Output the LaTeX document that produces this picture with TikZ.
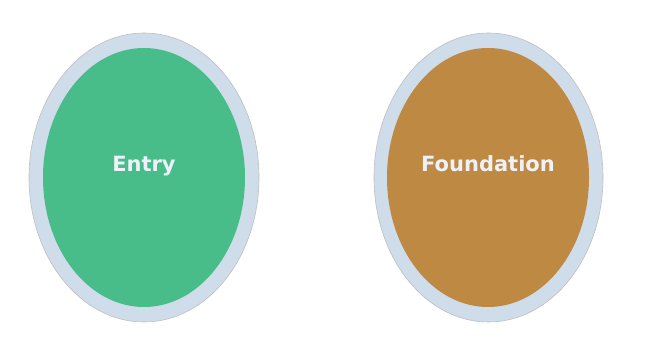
\documentclass[tikz,border=0pt]{standalone}
\usepackage{fontspec}
\setmainfont{DejaVu Sans}
\begin{document}
\begin{tikzpicture}[x=1pt,y=1pt,
  ring/.style={draw=black!25, line width=0.6pt, fill=ringblue},
  core/.style={draw=none},
  label/.style={font=\fontsize{21}{24}\selectfont\bfseries, text=labelwhite, anchor=base, inner sep=0pt}]
\definecolor{ringblue}{HTML}{CFDCEA}
\definecolor{entrygreen}{HTML}{48BD8A}
\definecolor{foundbrown}{HTML}{BD8943}
\definecolor{labelwhite}{HTML}{EEF1F8}
\useasboundingbox (0,0) rectangle (650,350);
% Entry
\fill[ring] (144,172.5) ellipse [x radius=115, y radius=144.5];
\fill[core, fill=entrygreen] (144,172.5) ellipse [x radius=101, y radius=129.5];
\node[label] (entry) at (144,178) {Entry};
% Foundation
\fill[ring] (488.5,172.5) ellipse [x radius=114.5, y radius=144.5];
\fill[core, fill=foundbrown] (488,172.5) ellipse [x radius=101, y radius=129.5];
\node[label] (foundation) at (488,178) {Foundation};
\end{tikzpicture}
\end{document}
